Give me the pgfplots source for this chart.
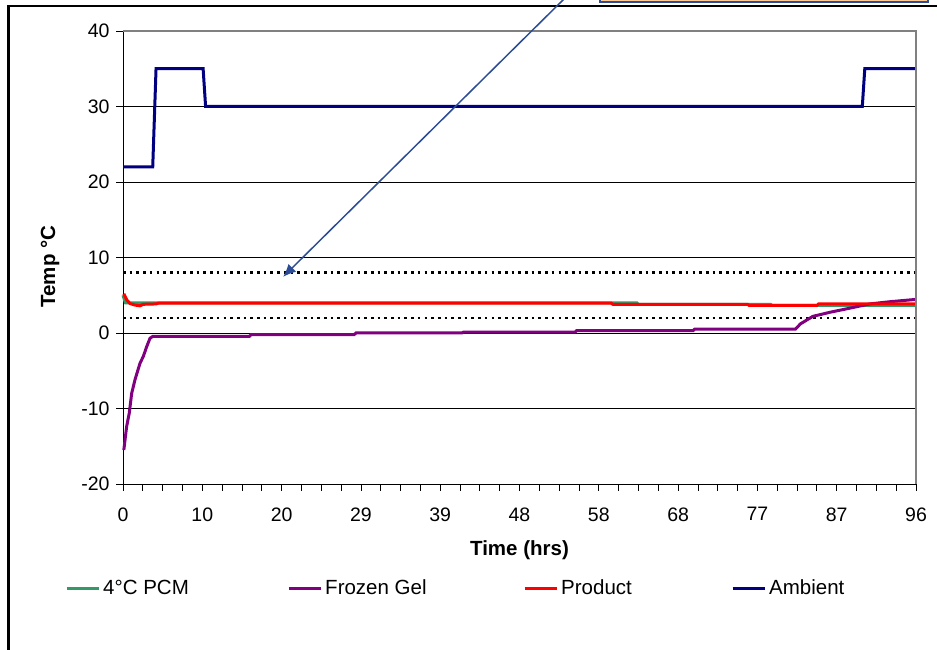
\documentclass[border=0pt]{standalone}
\usepackage{pgfplots}
\pgfplotsset{compat=1.18}
\usepackage{fontspec}
\setmainfont{Liberation Sans}
\usetikzlibrary{arrows.meta}
\definecolor{pcm}{HTML}{339966}
\definecolor{gel}{HTML}{800080}
\definecolor{prod}{HTML}{FF0000}
\definecolor{amb}{HTML}{000080}
\definecolor{arrowblue}{HTML}{2C4D96}
\definecolor{peach}{HTML}{FFCC99}
\begin{document}
\begin{tikzpicture}
\clip (0pt,0pt) rectangle (937pt,650pt);
\useasboundingbox (0pt,0pt) rectangle (937pt,650pt);
\draw[line width=2.5pt,black] (8.7pt,-20pt) rectangle (980pt,643.8pt);
\begin{axis}[
  at={(123pt,166pt)}, anchor=south west,
  scale only axis, width=793pt, height=453pt,
  xmin=0, xmax=96, ymin=-20, ymax=40,
  axis lines=left, axis line style={-, black, line width=0.9pt},
  xtick={0,9.6,19.2,28.8,38.4,48,57.6,67.2,76.8,86.4,96},
  xticklabels={0,10,20,29,39,48,58,68,77,87,96},
  minor x tick num=3,
  ytick={-20,-10,0,10,20,30,40},
  tick align=outside,
  major tick length=7pt, minor tick length=7pt,
  tick style={black, line width=0.8pt},
  ymajorgrids, grid style={black, line width=0.8pt},
  /pgf/number format/assume math mode=true,
  ticklabel style={font=\fontsize{19.5}{22}\selectfont},
  xticklabel style={yshift=-13pt},
  yticklabel style={xshift=-3pt},
  xlabel={Time (hrs)}, ylabel={Temp °C},
  label style={font=\fontsize{20.5}{24}\selectfont\bfseries},
  xlabel style={at={(axis description cs:0.5,-0.146)}, anchor=center},
  ylabel style={at={(axis description cs:-0.092,0.48)}, anchor=center, rotate=0},
  legend columns=4,
  legend style={draw=none, fill=none, at={(axis description cs:-0.0731,-0.2296)}, anchor=west,
    inner sep=0pt, font=\fontsize{20.5}{24}\selectfont,
    /tikz/every even column/.append style={column sep=0pt},
    nodes={inner xsep=3pt, inner ysep=0pt}},
  legend image code/.code={\draw[#1] (0pt,0pt) -- (32pt,0pt);},
  legend cell align=left,
  clip=false,
]
\addplot[forget plot, black, line width=2.4pt, dash pattern=on 2.6pt off 4.1pt] coordinates {(0,8) (96,8)};
\addplot[forget plot, black, line width=2.4pt, dash pattern=on 2.6pt off 4.1pt] coordinates {(0,2) (96,2)};
\addplot[pcm, line width=3pt] coordinates {
(0,5.0) (0.3,4.0) (62.2,4.0) (62.4,3.8) (78.4,3.8) (78.6,3.65) (96,3.65)};
\addlegendentry{\makebox[181pt][l]{4°C PCM}}
\addplot[gel, line width=3pt] coordinates {
(0.1,-15.5) (0.44,-12.4) (0.76,-10.6) (1.05,-8.0) (1.45,-6.2) (2.06,-4.0) (2.46,-3.1) (2.87,-1.8) (3.27,-0.7) (3.6,-0.45)
(15.3,-0.45) (15.5,-0.2) (28,-0.2) (28.2,0) (41,0) (41.2,0.1) (54.7,0.1) (54.9,0.3) (69,0.3) (69.2,0.5) (81.4,0.5)
(82,1.2) (83.5,2.2) (85.6,2.75) (87.6,3.2) (90.4,3.85) (92.9,4.15) (96,4.45)};
\addlegendentry{\makebox[195pt][l]{Frozen Gel}}
\addplot[prod, line width=3pt] coordinates {
(0.1,5.2) (0.45,4.4) (0.85,3.9) (1.45,3.7) (2.05,3.6) (2.45,3.8) (4.0,3.85) (4.3,3.95)
(59.1,3.95) (59.3,3.8) (75.6,3.8) (75.8,3.65) (84.0,3.65) (84.2,3.85) (96,3.85)};
\addlegendentry{\makebox[167pt][l]{Product}}
\addplot[amb, line width=3pt] coordinates {
(0,22) (3.6,22) (4.0,35) (9.7,35) (10.0,30) (89.5,30) (89.8,35) (96,35)};
\addlegendentry{Ambient}
\draw[gray, line width=1.5pt] (rel axis cs:0,1) -- (rel axis cs:1,1) -- (rel axis cs:1,0);
\end{axis}
\draw[arrowblue, line width=1.5pt, -{Latex[length=13pt,width=11pt]}] (565pt,652pt) -- (283pt,373pt);
\draw[fill=peach, draw=arrowblue, line width=1.5pt] (600pt,648pt) rectangle (928pt,670pt);
\end{tikzpicture}
\end{document}
